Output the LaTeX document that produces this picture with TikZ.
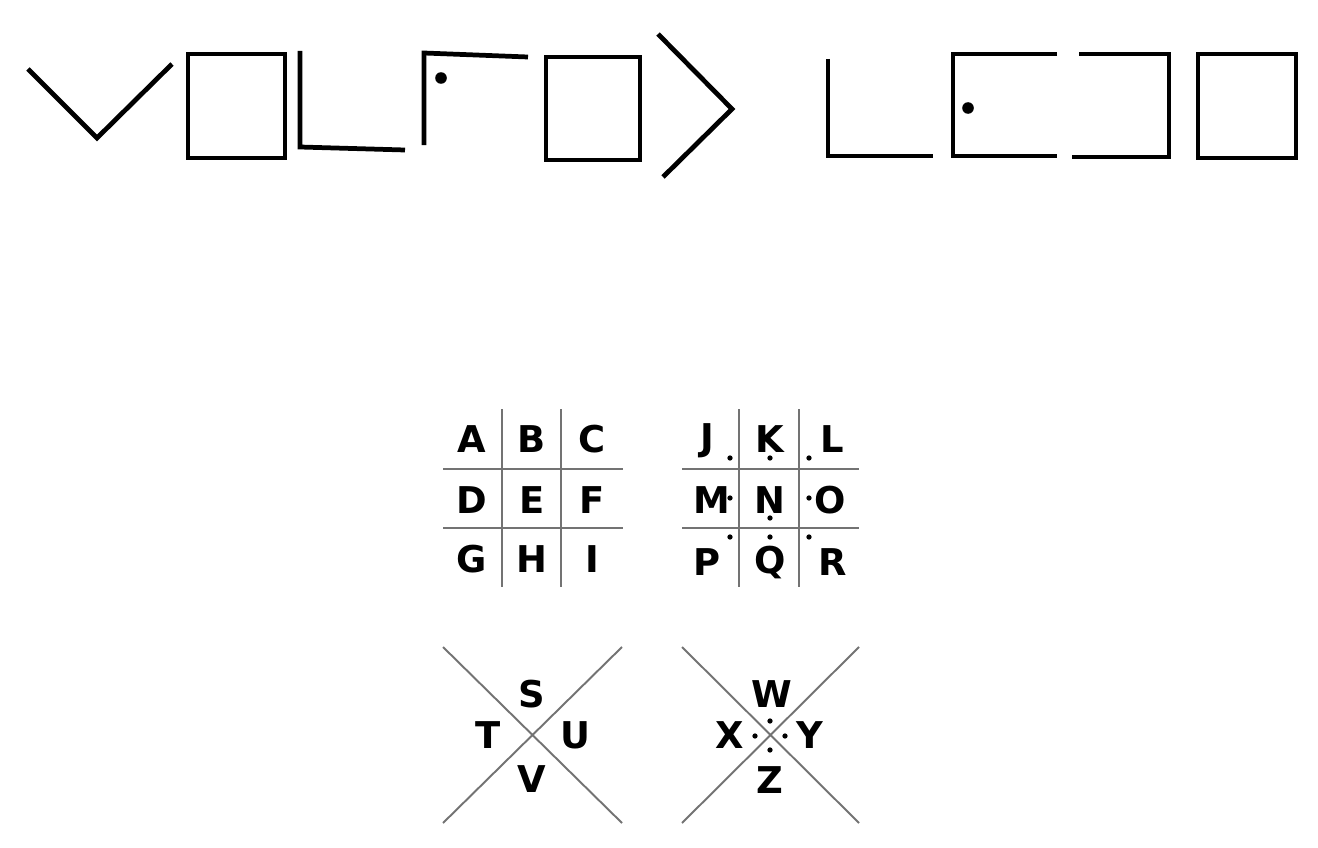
\documentclass[tikz,border=0pt]{standalone}
\usepackage{fontspec}
\setsansfont{DejaVu Sans}
\begin{document}
\begin{tikzpicture}[x=0.02cm, y=-0.02cm,
  traco/.style={line width=2.7pt},
  grade/.style={line width=1.1pt, black!55},
  letra/.style={font=\sffamily\bfseries\fontsize{21}{21}\selectfont, inner sep=0pt, anchor=base},
  ponto/.style={fill=black}]
\useasboundingbox (0,0) rectangle (1318,848);
% Mensagem cifrada
\draw[traco] (28,69) -- (97,138) -- (172,64);
\draw[traco] (188,54) rectangle (285,158);
\draw[traco] (300,51) -- (300,147) -- (405,150);
\draw[traco] (424,145) -- (424,53) -- (528,57);
\fill[ponto] (441,78) circle[radius=3.3pt];
\draw[traco] (546,57) rectangle (640,160);
\draw[traco] (658,34) -- (732,109) -- (663,177);
\draw[traco] (828,59) -- (828,156) -- (933,156);
\draw[traco] (1057,54) -- (953,54) -- (953,156) -- (1057,156);
\fill[ponto] (968,108) circle[radius=3.3pt];
\draw[traco] (1079,54) -- (1169,54) -- (1169,157) -- (1072,157);
\draw[traco] (1198,54) rectangle (1296,158);
% Grade sem pontos
\draw[grade] (502,409) -- (502,587) (561,409) -- (561,587);
\draw[grade] (443,469) -- (623,469) (443,528) -- (623,528);
\foreach \l/\x/\y in {A/472/452, B/532/452, C/592/452, D/472/513, E/532/513, F/592/513, G/472/572, H/532/572, I/592/572}
  \node[letra] (l\l) at (\x,\y) {\l};
% Grade com pontos
\draw[grade] (739,409) -- (739,587) (799,409) -- (799,587);
\draw[grade] (682,469) -- (859,469) (682,528) -- (859,528);
\foreach \l/\x/\y in {J/707/450, K/770/452, L/832/452, M/712/513, N/770/513, O/830/513, P/707/575, Q/770/573, R/833/575}
  \node[letra] (l\l) at (\x,\y) {\l};
\foreach \x/\y in {730/458, 770/458, 809/458, 730/498, 770/518, 809/498, 730/537, 770/537, 809/537}
  \fill[ponto] (\x,\y) circle[radius=1.5pt];
% X sem pontos
\draw[grade] (443,647) -- (622,823) (622,647) -- (443,823);
\node[letra] (lS) at (532,707) {S};
\node[letra] (lT) at (488,748) {T};
\node[letra] (lU) at (575,748) {U};
\node[letra] (lV) at (532,792) {V};
% X com pontos
\draw[grade] (682,647) -- (859,823) (859,647) -- (682,823);
\node[letra] (lW) at (772,707) {W};
\node[letra] (lX) at (730,748) {X};
\node[letra] (lY) at (810,748) {Y};
\node[letra] (lZ) at (770,793) {Z};
\foreach \x/\y in {770/721, 755/736, 785/736, 770/750}
  \fill[ponto] (\x,\y) circle[radius=1.5pt];
\end{tikzpicture}
\end{document}
